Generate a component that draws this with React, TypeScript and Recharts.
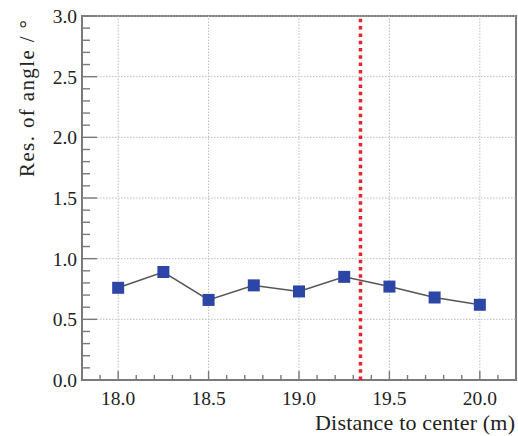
import React from 'react';
import { LineChart, Line, XAxis, YAxis, ReferenceLine, ReferenceArea } from 'recharts';

const distances = [18.0, 18.25, 18.5, 18.75, 19.0, 19.25, 19.5, 19.75, 20.0];
const resolutions = [0.76, 0.89, 0.66, 0.78, 0.73, 0.85, 0.77, 0.68, 0.62];
const xMajorTicks = [18.0, 18.5, 19.0, 19.5, 20.0];
const yMajorTicks = [0.5, 1.0, 1.5, 2.0, 2.5, 3.0];
const yLabelTicks = [0.0, 0.5, 1.0, 1.5, 2.0, 2.5, 3.0];
const xAllTicks = Array.from({ length: 23 }, (_, i) => Math.round(179 + i) / 10);
const yAllTicks = Array.from({ length: 31 }, (_, i) => i / 10);
const cutDistance = 19.34;
const xTitle = 'Distance to center (m)';
const yTitle = 'Res. of angle / °';

const data = distances.map((d, i) => ({ d, res: resolutions[i] }));

const FONT = "'Liberation Serif', 'Times New Roman', Times, serif";
const AXIS = '#7a7a7a';
const TEXT = '#222';
const textStyle = (size: number) => ({ fontFamily: FONT, fontSize: size, fill: TEXT });

const isIn = (v: number, arr: number[]) => arr.some((m) => Math.abs(m - v) < 1e-6);

const XTick = (props: any) => {
  const { x, y, payload } = props;
  const v = payload.value as number;
  const major = isIn(v, xMajorTicks);
  return (
    <g>
      <line x1={x} x2={x} y1={y} y2={y - (major ? 9 : 5)} stroke={AXIS} strokeWidth={1.4} />
      {major && (
        <text x={x} y={y + 25} textAnchor="middle" style={textStyle(19.5)}>
          {v.toFixed(1)}
        </text>
      )}
    </g>
  );
};

const YTick = (props: any) => {
  const { x, y, payload } = props;
  const v = payload.value as number;
  const major = isIn(v, yLabelTicks);
  return (
    <g>
      <line x1={x} x2={x + (major ? 15 : 8)} y1={y} y2={y} stroke={AXIS} strokeWidth={1.4} />
      {major && (
        <text x={x - 5} y={y + 7} textAnchor="end" style={textStyle(19.5)}>
          {v.toFixed(1)}
        </text>
      )}
    </g>
  );
};

const SquareDot = (props: any) => {
  const { cx, cy, index } = props;
  if (cx == null || cy == null) return <g key={index} />;
  return <rect key={index} x={cx - 6} y={cy - 6} width={12} height={12} fill="#2c46a6" />;
};

const renderXTitle = () => (
  <text x={515} y={430} textAnchor="end" style={textStyle(22)} textLength={200} lengthAdjust="spacing">
    {xTitle}
  </text>
);

const renderYTitle = () => (
  <text
    x={34}
    y={20}
    transform="rotate(-90 34 20)"
    textAnchor="end"
    style={textStyle(21)}
    textLength={157}
    lengthAdjust="spacing"
  >
    {yTitle}
  </text>
);

export default function App() {
  return (
    <div style={{ position: 'absolute', left: 0, top: 0, width: 518, height: 436, background: '#fff' }}>
      <LineChart width={518} height={436} data={data} margin={{ top: 16, right: 2, bottom: 0, left: 0 }}>
        <XAxis
          dataKey="d"
          type="number"
          domain={[17.8, 20.2]}
          ticks={xAllTicks}
          interval={0}
          height={56}
          axisLine={false}
          tickLine={false}
          tickSize={0}
          tickMargin={0}
          tick={<XTick />}
          label={renderXTitle}
          allowDataOverflow
        />
        <YAxis
          type="number"
          domain={[0, 3]}
          ticks={yAllTicks}
          interval={0}
          width={82}
          axisLine={false}
          tickLine={false}
          tickSize={0}
          tickMargin={0}
          tick={<YTick />}
          label={renderYTitle}
          allowDataOverflow
        />
        {xMajorTicks.map((t) => (
          <ReferenceLine key={'gx' + t} x={t} stroke="#bdbdbd" strokeWidth={1} strokeDasharray="1.5 1.5" />
        ))}
        {yMajorTicks.map((t) => (
          <ReferenceLine key={'gy' + t} y={t} stroke="#bdbdbd" strokeWidth={1} strokeDasharray="1.5 1.5" />
        ))}
        <ReferenceArea x1={17.8} x2={20.2} y1={0} y2={3} fill="none" fillOpacity={0} stroke={AXIS} strokeWidth={2} />
        <Line
          dataKey="res"
          stroke="#555"
          strokeWidth={1.5}
          dot={<SquareDot />}
          activeDot={false}
          isAnimationActive={false}
        />
        <ReferenceLine x={cutDistance} stroke="#e8242c" strokeWidth={3.5} strokeDasharray="3.5 3.8" />
      </LineChart>
    </div>
  );
}
